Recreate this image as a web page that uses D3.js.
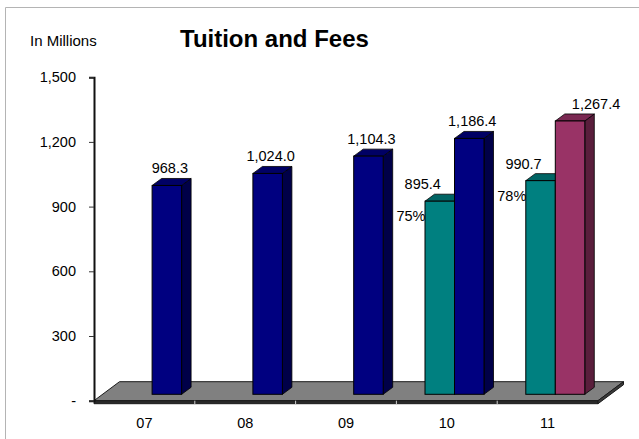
<!DOCTYPE html>
<html>
<head>
<meta charset="utf-8">
<script src="https://cdn.jsdelivr.net/npm/d3@7"></script>
<style>
  html, body { margin: 0; padding: 0; background: #fff; }
  svg { display: block; font-family: "Liberation Sans", Arial, sans-serif; }
</style>
</head>
<body>
<svg id="chart" width="639" height="439"></svg>
<script>
// ---- data ----
const categories = ["07", "08", "09", "10", "11"];
const tuitionShare = [null, null, null, 895.4, 990.7];      // teal series
const tuitionTotal = [968.3, 1024.0, 1104.3, 1186.4, 1267.4]; // total series
const totalKind = ["actual", "actual", "actual", "actual", "budget"];
const yTicks = [0, 300, 600, 900, 1200, 1500];
const titleText = "Tuition and Fees";
const unitText = "In Millions";

// ---- styles ----
const palette = {
  share:  { front: "#008080", top: "#006464", side: "#004848" },
  actual: { front: "#000080", top: "#000064", side: "#000048" },
  budget: { front: "#993366", top: "#7a2952", side: "#5a1e3c" }
};

const svg = d3.select("#chart");

// frame
svg.append("path").attr("d", "M5.5,439 L5.5,7.5 L639,7.5")
  .attr("fill", "none").attr("stroke", "#b4b4b4").attr("stroke-width", 1);

// scales
const y = d3.scaleLinear().domain([0, 1500]).range([400.7, 77.2]);
const x = d3.scaleBand().domain(categories).range([94, 598]);
const floorDepth = { dx: 25.5, dy: -19 };
const barShift = { dx: 8.6, dy: -6.4 };
const barDepth = { dx: 9.5, dy: -7 };
const slot = d3.scaleBand().domain(["share", "total"]).range([-30.4, 28.6]);

// floor slab
const fx0 = x.range()[0], fx1 = x.range()[1], fy = y(0), th = 3;
const floor = svg.append("g");
floor.append("path")
  .attr("d", `M${fx0},${fy} L${fx1},${fy} L${fx1 + floorDepth.dx},${fy + floorDepth.dy} L${fx0 + floorDepth.dx},${fy + floorDepth.dy} Z`)
  .attr("fill", "#808080").attr("stroke", "#1a1a1a").attr("stroke-width", 1);
floor.append("path")
  .attr("d", `M${fx0},${fy} L${fx1},${fy} L${fx1},${fy + th} L${fx0},${fy + th} Z`)
  .attr("fill", "#2a2a2a").attr("stroke", "#1a1a1a").attr("stroke-width", 1);
floor.append("path")
  .attr("d", `M${fx1},${fy} L${fx1 + floorDepth.dx},${fy + floorDepth.dy} L${fx1 + floorDepth.dx},${fy + floorDepth.dy + th} L${fx1},${fy + th} Z`)
  .attr("fill", "#3a3a3a").attr("stroke", "#1a1a1a").attr("stroke-width", 1);
// category separators on floor edge
floor.selectAll("line.sep").data(categories.slice(1)).enter().append("line")
  .attr("x1", d => x(d)).attr("x2", d => x(d))
  .attr("y1", fy).attr("y2", fy + th + 1)
  .attr("stroke", "#cfcfcf").attr("stroke-width", 1);

// y axis
const yAxis = d3.axisLeft(y).tickValues(yTicks)
  .tickFormat(d => d === 0 ? "-" : d3.format(",")(d))
  .tickSize(5).tickPadding(13);
const ya = svg.append("g").attr("transform", "translate(94,0)").call(yAxis);
ya.select(".domain").attr("stroke", "#111").attr("stroke-width", 2);
ya.selectAll(".tick line").attr("stroke", "#333").attr("stroke-width", 1);
ya.selectAll(".tick text").attr("font-size", 14.5).attr("fill", "#000")
  .attr("font-family", "Liberation Sans, Arial, sans-serif");

// x labels
svg.append("g").selectAll("text").data(categories).enter().append("text")
  .attr("x", d => x(d) + x.bandwidth() / 2)
  .attr("y", 423)
  .attr("text-anchor", "middle").attr("dominant-baseline", "central")
  .attr("font-size", 14.5).text(d => d);

// bars
const bars = [];
categories.forEach((c, i) => {
  if (tuitionShare[i] != null) bars.push({ cat: c, series: "share", value: tuitionShare[i], style: "share" });
  if (tuitionTotal[i] != null) bars.push({ cat: c, series: "total", value: tuitionTotal[i], style: totalKind[i] });
});
const geo = d => {
  const cx = x(d.cat) + x.bandwidth() / 2 + barShift.dx;
  const x0 = cx + slot(d.series), x1 = x0 + slot.bandwidth();
  const yb = y(0) + barShift.dy, yt = y(d.value) + barShift.dy;
  return { x0, x1, yb, yt };
};
const bg = svg.append("g");
bars.forEach(d => {
  const g = geo(d), col = palette[d.style], dx = barDepth.dx, dy = barDepth.dy;
  const grp = bg.append("g");
  grp.append("path")
    .attr("d", `M${g.x1},${g.yb} L${g.x1},${g.yt} L${g.x1 + dx},${g.yt + dy} L${g.x1 + dx},${g.yb + dy} Z`)
    .attr("fill", col.side).attr("stroke", "#000").attr("stroke-width", 0.8);
  grp.append("path")
    .attr("d", `M${g.x0},${g.yt} L${g.x1},${g.yt} L${g.x1 + dx},${g.yt + dy} L${g.x0 + dx},${g.yt + dy} Z`)
    .attr("fill", col.top).attr("stroke", "#000").attr("stroke-width", 0.8);
  grp.append("rect")
    .attr("x", g.x0).attr("y", g.yt).attr("width", g.x1 - g.x0).attr("height", g.yb - g.yt)
    .attr("fill", col.front).attr("stroke", "#000").attr("stroke-width", 1);
});

// value labels
const labelOffset = { share: -17, actual: 3, budget: 26 };
svg.append("g").selectAll("text").data(bars).enter().append("text")
  .attr("x", d => { const g = geo(d); return (g.x0 + g.x1) / 2 + labelOffset[d.style]; })
  .attr("y", d => geo(d).yt - 17)
  .attr("text-anchor", "middle").attr("dominant-baseline", "central")
  .attr("font-size", 14.5)
  .text(d => d3.format(",.1f")(d.value));

// percentage labels (share of total)
const pct = bars.filter(d => d.series === "share");
svg.append("g").selectAll("text").data(pct).enter().append("text")
  .attr("x", d => geo(d).x0 + 0.5)
  .attr("y", d => geo(d).yt + 15)
  .attr("text-anchor", "end").attr("dominant-baseline", "central")
  .attr("font-size", 14.5)
  .text(d => {
    const i = categories.indexOf(d.cat);
    return Math.round(tuitionShare[i] / tuitionTotal[i] * 100) + "%";
  });

// titles
svg.append("text").attr("x", 180).attr("y", 47).attr("font-size", 24)
  .attr("font-weight", "bold").text(titleText);
svg.append("text").attr("x", 30).attr("y", 45.5).attr("font-size", 15).text(unitText);
</script>
</body>
</html>
